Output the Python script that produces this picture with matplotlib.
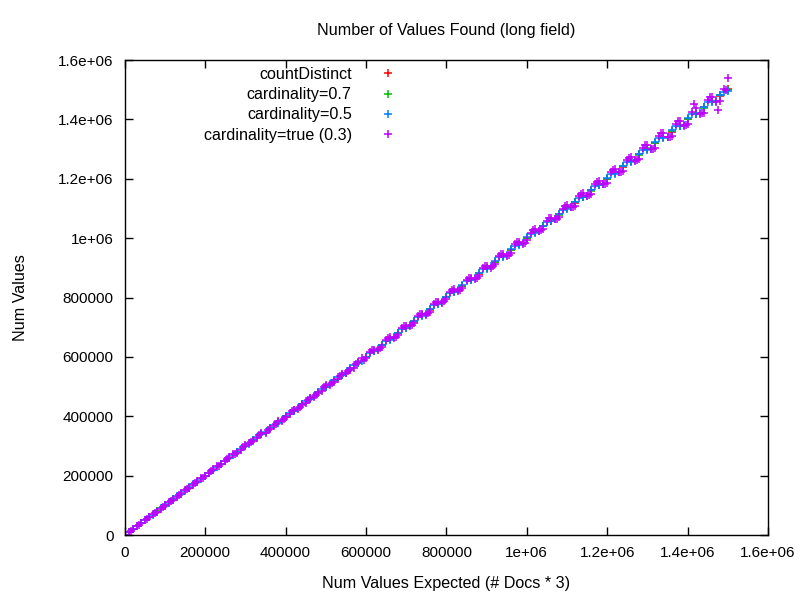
import matplotlib
matplotlib.use("Agg")
import matplotlib.pyplot as plt
from matplotlib.ticker import FuncFormatter, MultipleLocator

plt.rcParams['font.family'] = ['Liberation Sans', 'DejaVu Sans']

# expected number of values, in thousands
expected = [0, 20, 40, 60, 80, 100, 120, 140, 160, 180,
            200, 220, 240, 260, 280, 300, 320, 340, 360, 380,
            400, 420, 440, 460, 480, 500, 520, 540, 560, 580,
            600, 620, 640, 660, 680, 700, 720, 740, 760, 780,
            800, 820, 840, 860, 880, 900, 920, 940, 960, 980,
            1000, 1020, 1040, 1060, 1080, 1100, 1120, 1140, 1160, 1180,
            1200, 1220, 1240, 1260, 1280, 1300, 1320, 1340, 1360, 1380,
            1400, 1420, 1440, 1460, 1480, 1500]
# more runs, in between the first
expected_b = [10, 30, 50, 70, 90, 110, 130, 150, 170, 190,
              210, 230, 250, 270, 290, 310, 330, 350, 370, 390,
              410, 430, 450, 470, 490, 510, 530, 550, 570, 590,
              610, 630, 650, 670, 690, 710, 730, 750, 770, 790,
              810, 830, 850, 870, 890, 910, 930, 950, 970, 990,
              1010, 1030, 1050, 1070, 1090, 1110, 1130, 1150, 1170, 1190,
              1210, 1230, 1250, 1270, 1290, 1310, 1330, 1350, 1370, 1390,
              1410, 1430, 1450, 1470, 1490]
expected_c = [15, 35, 55, 75, 95, 115, 135, 155, 175, 195,
              215, 235, 255, 275, 295, 315, 335, 355, 375, 395,
              415, 435, 455, 475, 495, 515, 535, 555, 575, 595,
              615, 635, 655, 675, 695, 715, 735, 755, 775, 795,
              815, 835, 855, 875, 895, 915, 935, 955, 975, 995,
              1015, 1035, 1055, 1075, 1095, 1115, 1135, 1155, 1175, 1195,
              1215, 1235, 1255, 1275, 1295, 1315, 1335, 1355, 1375, 1395,
              1415, 1435, 1455, 1475, 1495]

# values found, in thousands
count_distinct = [0, 20.0, 40.1, 59.9, 80.2, 99.8, 120.3, 139.7, 160.4, 180.2,
                  200.5, 219.6, 240.3, 260.6, 279.5, 300.4, 320.8, 339.4, 360.6, 380.3,
                  399.2, 420.7, 440.5, 459.3, 480.8, 500.6, 519.2, 540.9, 560.4, 579.1,
                  600.8, 620.5, 639.0, 660.9, 680.2, 699.1, 720.6, 741.0, 759.3, 780.4,
                  801.2, 819.0, 840.7, 861.1, 879.2, 900.5, 921.3, 938.8, 960.9, 981.0,
                  999.1, 1020.8, 1041.5, 1058.9, 1080.6, 1101.7, 1119.0, 1140.4, 1161.8, 1178.7,
                  1200.9, 1222.0, 1238.5, 1260.3, 1281.9, 1299.0, 1320.8, 1342.1, 1358.6, 1380.7,
                  1402.0, 1418.8, 1441.1, 1461.6, 1478.9, 1501.2]
card_07 = [0, 20.1, 39.9, 60.2, 80.0, 100.3, 119.9, 140.4, 159.6, 180.3,
           199.7, 220.4, 240.6, 259.5, 280.4, 299.6, 320.2, 340.7, 359.4, 380.8,
           400.5, 419.4, 440.9, 460.3, 479.5, 500.9, 520.6, 539.3, 560.8, 580.5,
           599.0, 620.9, 640.6, 659.3, 680.9, 700.8, 719.2, 740.3, 761.1, 779.0,
           800.6, 821.0, 839.4, 860.2, 881.3, 899.1, 920.4, 941.2, 959.0, 980.8,
           1001.5, 1019.3, 1040.2, 1061.7, 1079.0, 1100.6, 1121.8, 1138.9, 1160.5, 1181.6,
           1199.2, 1220.7, 1241.9, 1258.8, 1280.4, 1302.1, 1319.0, 1340.6, 1361.8, 1379.2,
           1400.9, 1421.7, 1439.0, 1460.5, 1481.8, 1499.6]
card_05 = [0, 20.2, 39.8, 60.4, 79.6, 100.6, 120.5, 139.3, 160.8, 179.4,
           201.0, 219.1, 241.2, 259.0, 281.0, 298.9, 321.4, 339.1, 361.5, 379.0,
           401.3, 418.8, 441.6, 459.0, 481.2, 498.7, 521.5, 538.6, 561.9, 578.8,
           601.6, 618.7, 641.9, 658.5, 681.7, 698.4, 722.0, 738.9, 761.8, 778.3,
           802.2, 818.1, 842.0, 858.7, 882.4, 897.9, 922.5, 938.0, 962.2, 978.6,
           1002.8, 1017.9, 1042.6, 1058.1, 1082.5, 1097.8, 1122.9, 1137.6, 1163.0, 1177.9,
           1203.1, 1217.5, 1243.2, 1257.4, 1283.0, 1297.6, 1323.4, 1337.2, 1363.1, 1377.8,
           1403.5, 1416.9, 1443.4, 1457.3, 1483.2, 1497.0]
card_05_b = [10.1, 29.8, 50.3, 69.6, 90.4, 109.5, 130.7, 149.2, 170.9, 189.3,
             210.8, 228.9, 251.2, 268.8, 291.3, 308.7, 331.6, 348.5, 371.9, 388.4,
             411.7, 428.2, 452.0, 467.9, 492.3, 507.6, 532.4, 547.5, 572.8, 587.3,
             612.9, 627.0, 653.1, 666.8, 693.4, 706.5, 733.6, 746.2, 774.0, 785.9,
             814.2, 825.7, 854.5, 865.3, 894.8, 905.0, 935.1, 944.6, 975.3, 984.4,
             1015.7, 1024.0, 1056.0, 1063.7, 1096.2, 1103.5, 1136.6, 1143.0, 1176.9, 1182.7,
             1217.2, 1222.4, 1257.5, 1262.1, 1297.8, 1301.8, 1338.1, 1341.5, 1378.4, 1381.2,
             1418.7, 1420.9, 1459.0, 1460.5, 1491.0]
card_true = [0, 20.4, 39.5, 60.9, 79.2, 101.1, 119.0, 141.6, 158.9, 181.8,
             198.5, 222.3, 238.7, 262.4, 278.0, 302.5, 317.9, 342.8, 357.6, 382.9,
             396.8, 423.1, 437.5, 463.0, 477.2, 504.1, 516.8, 544.2, 555.3, 584.7,
             596.0, 625.1, 634.8, 665.9, 675.0, 705.6, 714.2, 746.3, 752.9, 786.0,
             794.1, 828.6, 833.0, 867.4, 873.6, 907.2, 912.5, 948.3, 951.0, 988.5,
             993.2, 1029.4, 1031.8, 1069.5, 1070.6, 1110.2, 1109.4, 1150.8, 1148.0, 1191.0,
             1186.5, 1233.2, 1226.9, 1272.5, 1266.0, 1313.7, 1305.2, 1353.8, 1345.7, 1395.0,
             1384.6, 1437.0, 1421.3, 1476.4, 1462.0, 1538.0]
card_true_b = [10.1, 30.3, 49.6, 70.5, 89.3, 110.8, 129.2, 150.9, 168.8, 191.2,
               209.0, 231.6, 248.4, 271.9, 288.1, 311.5, 327.6, 344.0, 367.3, 384.5,
               406.9, 424.7, 446.2, 464.0, 486.4, 506.3, 525.1, 547.0, 564.6, 595.0,
               616.0, 624.5, 657.2, 663.8, 697.1, 703.4, 738.0, 742.6, 778.5, 782.1,
               818.9, 822.0, 859.3, 861.5, 899.6, 901.0, 940.2, 940.8, 980.7, 980.3,
               1018.5, 1025.4, 1058.9, 1063.0, 1099.4, 1104.2, 1141.0, 1142.8, 1181.3, 1183.0,
               1221.6, 1222.9, 1262.0, 1261.5, 1303.1, 1299.8, 1343.6, 1340.2, 1385.0, 1379.4,
               1424.8, 1419.6, 1466.0, 1458.7, 1502.9]
card_true_c = [15.2, 34.7, 55.4, 74.5, 95.6, 114.2, 135.9, 154.0, 175.8, 193.9,
               216.1, 233.8, 256.0, 273.7, 296.4, 313.5, 336.8, 353.2, 376.0, 392.8,
               417.5, 432.6, 456.1, 472.3, 497.4, 511.9, 537.7, 551.2, 577.6, 590.5,
               622.6, 629.0, 663.1, 668.5, 703.6, 708.2, 744.0, 747.3, 784.6, 786.9,
               825.0, 826.1, 865.7, 866.0, 906.2, 905.3, 946.9, 944.5, 987.0, 984.6,
               1026.0, 1027.5, 1068.2, 1066.0, 1108.9, 1104.8, 1149.0, 1144.2, 1190.1, 1183.5,
               1230.7, 1222.4, 1270.8, 1262.0, 1312.4, 1300.9, 1352.6, 1341.0, 1393.2, 1380.1,
               1452.0, 1421.5, 1474.3, 1430.8, 1500.2]

series = [
    ("countDistinct", [(expected, count_distinct)], "#ff0000"),
    ("cardinality=0.7", [(expected, card_07)], "#00c000"),
    ("cardinality=0.5", [(expected, card_05), (expected_b, card_05_b)], "#0080ff"),
    ("cardinality=true (0.3)", [(expected, card_true), (expected_b, card_true_b),
                                (expected_c, card_true_c)], "#c000ff"),
]

fig = plt.figure(figsize=(8, 6), dpi=100)
ax = fig.add_axes([0.156, 0.108, 0.804, 0.792])

for label, runs, color in series:
    xs, ys = [], []
    for ex, found in runs:
        xs += [v * 1000 for v in ex]
        ys += [v * 1000 for v in found]
    ax.plot(xs, ys, linestyle='none', marker='+', markersize=5.8,
            markeredgewidth=1.1, color=color, label=label)

ax.set_xlim(0, 1.6e6)
ax.set_ylim(0, 1.6e6)
ax.xaxis.set_major_locator(MultipleLocator(200000))
ax.yaxis.set_major_locator(MultipleLocator(200000))
fmt = FuncFormatter(lambda v, pos: '%g' % v)
ax.xaxis.set_major_formatter(fmt)
ax.yaxis.set_major_formatter(fmt)
ax.tick_params(direction='in', length=6, width=1, top=True, right=True,
               labelsize=11, pad=8, colors='black')
for s in ax.spines.values():
    s.set_linewidth(1)

ax.set_title('Number of Values Found (long field)', fontsize=11.6, pad=18)
ax.set_xlabel('Num Values Expected (# Docs * 3)', fontsize=11.6, labelpad=11)
ax.set_ylabel('Num Values', fontsize=11.6, labelpad=22)

# markerfirst=False right-aligns the rows, so labels end at the same x
ax.legend(loc='upper right', bbox_to_anchor=(0.4215, 0.985), frameon=False,
          markerfirst=False, fontsize=11.6, borderaxespad=0, borderpad=0,
          labelspacing=0.32, handlelength=1.0, handletextpad=1.74)

fig.savefig('out.png', dpi=100)
